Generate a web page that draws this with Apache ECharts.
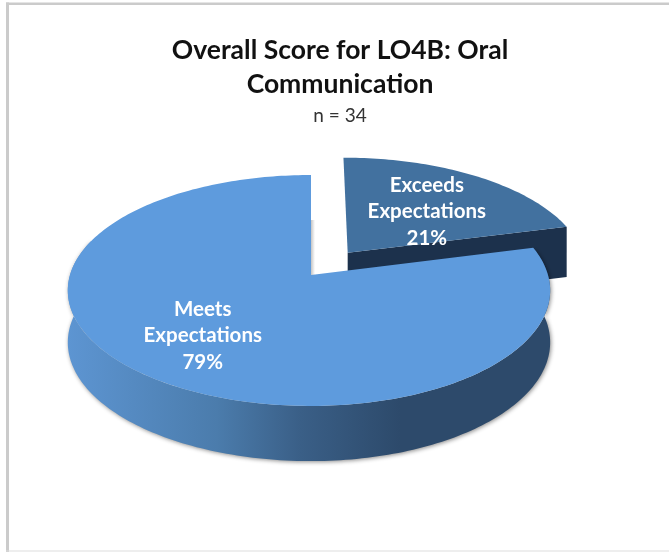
<!DOCTYPE html>
<html>
<head>
<meta charset="utf-8">
<style>
  html, body { margin: 0; padding: 0; background: #fff; }
  #chart { width: 669px; height: 552px; }
</style>
<script src="https://cdn.jsdelivr.net/npm/echarts@6/dist/echarts.min.js"></script>
</head>
<body>
<div id="chart"></div>
<script>
var categories = ['Exceeds\nExpectations', 'Meets\nExpectations'];
var percents = [21, 79];
var exploded = [0.255, 0];
var titleText = 'Overall Score for LO4B: Oral\nCommunication';
var subText = 'n = 34';

var topColors = ['#42719f', '#5e9bdd'];
var faceColor = '#1c314c';
var wallColor = {
  type: 'linear', x: 67, y: 0, x2: 400, y2: 0, global: true,
  colorStops: [
    { offset: 0, color: '#5d95d2' },
    { offset: 0.45, color: '#4b7cac' },
    { offset: 0.7, color: '#3a5f87' },
    { offset: 1, color: '#2d4a6b' }
  ]
};

// tilted disc: unit circle pushed through a simple perspective
var apexX = 311, apexY = 275, radiusY = 113.4, tilt = 0.134;
var radiusLeft = 241, radiusRight = [241, 237];
var labelRadius = [0.6, 0.68];
var labelShift = [7, -5];

function project(u, v, drop, i) {
  var w = 1 + tilt * v;
  var y = apexY - radiusY * v / w;
  if (drop) y += 28 + 23.5 / w;
  return [apexX + (u > 0 ? radiusRight[i] : radiusLeft) * u / w, y];
}

function rimPoints(from, to, off, drop, idx) {
  var pts = [];
  var steps = Math.max(2, Math.ceil((to - from) / 0.02));
  for (var i = 0; i <= steps; i++) {
    var a = from + (to - from) * i / steps;
    pts.push(project(Math.sin(a) + off[0], Math.cos(a) + off[1], drop, idx));
  }
  return pts;
}

var total = percents.reduce(function (s, p) { return s + p; }, 0);
var seriesData = categories.map(function (name, i) {
  var before = percents.slice(0, i).reduce(function (s, p) { return s + p; }, 0);
  return { name: name, value: [before, percents[i]] };
});

function renderSlice(params, api) {
  var i = params.dataIndex;
  var start = api.value(0) / total * 2 * Math.PI;
  var end = start + api.value(1) / total * 2 * Math.PI;
  var mid = (start + end) / 2;
  var off = [exploded[i] * Math.sin(mid), exploded[i] * Math.cos(mid)];
  var children = [];

  // side wall, only the part that faces the viewer
  var wallFrom = Math.max(start, Math.PI * 0.4);
  var wallTo = Math.min(end, Math.PI * 1.6);
  if (wallTo > wallFrom && wallTo > Math.PI / 2 && wallFrom < Math.PI * 1.5) {
    children.push({
      type: 'polygon',
      shape: { points: rimPoints(wallFrom, wallTo, off, false, i).concat(rimPoints(wallFrom, wallTo, off, true, i).reverse()) },
      style: { fill: wallColor, shadowColor: 'rgba(0,0,0,0.45)', shadowBlur: 4, shadowOffsetX: 1, shadowOffsetY: 1 }
    });
  }

  // cut face at the end of the slice
  if (Math.sin(end) > 0.01) {
    var rim = [Math.sin(end) + off[0], Math.cos(end) + off[1]];
    children.push({
      type: 'polygon',
      shape: { points: [
        project(off[0], off[1], false, i), project(rim[0], rim[1], false, i),
        project(rim[0], rim[1], true, i), project(off[0], off[1], true, i)
      ] },
      style: { fill: faceColor }
    });
  }

  // top surface
  children.push({
    type: 'polygon',
    shape: { points: [project(off[0], off[1], false, i)].concat(rimPoints(start, end, off, false, i)) },
    style: { fill: topColors[i] }
  });

  var r = labelRadius[i];
  var at = project(r * Math.sin(mid) + off[0], r * Math.cos(mid) + off[1], false, i);
  children.push({
    type: 'text',
    x: at[0],
    y: at[1] + labelShift[i],
    z2: 10,
    style: {
      text: categories[i] + '\n' + api.value(1) + '%',
      fill: '#fff',
      font: 'bold 20.5px Lato',
      lineHeight: 26.5,
      align: 'center',
      verticalAlign: 'middle'
    }
  });
  return { type: 'group', children: children };
}

var chart = echarts.init(document.getElementById('chart'), null, { renderer: 'canvas' });
chart.setOption({
  animation: false,
  backgroundColor: '#fff',
  title: {
    text: titleText,
    subtext: subText,
    left: 335,
    top: 28,
    textAlign: 'center',
    itemGap: 5,
    textStyle: { fontFamily: 'Lato', fontWeight: 'bold', fontSize: 26.5, lineHeight: 34, color: '#111' },
    subtextStyle: { fontFamily: 'Lato', fontSize: 19, color: '#333' }
  },
  graphic: [
    { type: 'rect', shape: { x: 6, y: 2.5, width: 663, height: 2.5 }, style: { fill: '#cbcbcb' }, silent: true },
    { type: 'rect', shape: { x: 6, y: 2.5, width: 3, height: 549.5 }, style: { fill: '#cbcbcb' }, silent: true },
    { type: 'rect', shape: { x: 6, y: 550.5, width: 663, height: 1 }, style: { fill: '#dedede' }, silent: true },
    {
      type: 'rect',
      shape: { x: apexX, y: 220, width: 4, height: 56 },
      style: { fill: { type: 'linear', x: 0, y: 0, x2: 1, y2: 0, colorStops: [{ offset: 0, color: '#c4c4c4' }, { offset: 1, color: '#ffffff' }] } },
      silent: true
    }
  ],
  series: [{
    type: 'custom',
    coordinateSystem: 'none',
    renderItem: renderSlice,
    data: seriesData
  }]
});

window.addEventListener('resize', function () {
  chart.resize();
});
</script>
</body>
</html>
